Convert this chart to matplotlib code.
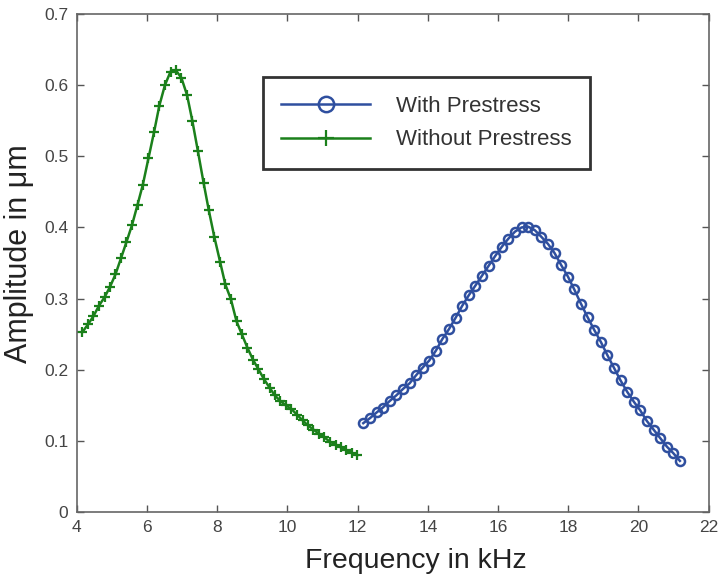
import matplotlib
matplotlib.use("Agg")
import matplotlib.pyplot as plt

plt.rcParams["font.family"] = ["Liberation Sans", "DejaVu Sans"]

# --- data ---
freq_without = [4.16, 4.32, 4.47, 4.63, 4.79, 4.94, 5.10, 5.26, 5.41, 5.57,
                5.73, 5.88, 6.04, 6.20, 6.35, 6.51, 6.67, 6.82, 6.98, 7.14,
                7.29, 7.45, 7.61, 7.76, 7.92, 8.08, 8.23, 8.39, 8.55, 8.70,
                8.86, 9.02, 9.17, 9.33, 9.49, 9.64, 9.80, 9.96, 10.11, 10.27,
                10.43, 10.58, 10.74, 10.90, 11.05, 11.21, 11.37, 11.52, 11.68, 11.84,
                11.99]
amp_without = [0.253, 0.264, 0.275, 0.290, 0.302, 0.316, 0.334, 0.357, 0.379, 0.403,
               0.432, 0.460, 0.497, 0.534, 0.571, 0.600, 0.619, 0.621, 0.610, 0.586,
               0.550, 0.507, 0.463, 0.424, 0.386, 0.352, 0.320, 0.299, 0.268, 0.250,
               0.231, 0.214, 0.201, 0.187, 0.175, 0.164, 0.156, 0.150, 0.145, 0.137,
               0.129, 0.122, 0.116, 0.110, 0.105, 0.099, 0.095, 0.091, 0.087, 0.083,
               0.080]

freq_with = [12.16, 12.35, 12.54, 12.72, 12.91, 13.10, 13.29, 13.48, 13.66, 13.85,
             14.04, 14.23, 14.41, 14.60, 14.79, 14.98, 15.17, 15.35, 15.54, 15.73,
             15.92, 16.11, 16.29, 16.48, 16.67, 16.86, 17.05, 17.23, 17.42, 17.61,
             17.80, 17.99, 18.17, 18.36, 18.55, 18.74, 18.93, 19.11, 19.30, 19.49,
             19.68, 19.87, 20.05, 20.24, 20.43, 20.62, 20.81, 20.99, 21.18]
amp_with = [0.125, 0.132, 0.140, 0.147, 0.156, 0.164, 0.173, 0.181, 0.192, 0.203,
            0.213, 0.227, 0.243, 0.257, 0.273, 0.290, 0.305, 0.318, 0.332, 0.346,
            0.360, 0.373, 0.384, 0.394, 0.400, 0.401, 0.396, 0.387, 0.377, 0.364,
            0.347, 0.331, 0.313, 0.293, 0.274, 0.256, 0.239, 0.221, 0.203, 0.185,
            0.169, 0.155, 0.143, 0.128, 0.116, 0.104, 0.092, 0.083, 0.072]

x_ticks = [4, 6, 8, 10, 12, 14, 16, 18, 20, 22]
y_ticks = [0, 0.1, 0.2, 0.3, 0.4, 0.5, 0.6, 0.7]
y_tick_labels = ["0", "0.1", "0.2", "0.3", "0.4", "0.5", "0.6", "0.7"]

BLUE = "#2f4f9f"
GREEN = "#1b801b"

fig = plt.figure(figsize=(7.18, 5.8), dpi=100)
ax = fig.add_axes([0.107, 0.117, 0.880, 0.859])

ax.plot(freq_with, amp_with, color=BLUE, linewidth=1.8, marker="o",
        markersize=6.5, markerfacecolor="none", markeredgewidth=1.8,
        label="With Prestress")
ax.plot(freq_without, amp_without, color=GREEN, linewidth=1.8, marker="+",
        markersize=6.5, markeredgewidth=1.6, label="Without Prestress")

ax.set_xlim(4, 22)
ax.set_ylim(0, 0.7)
ax.set_xticks(x_ticks)
ax.set_xticklabels([str(t) for t in x_ticks])
ax.set_yticks(y_ticks)
ax.set_yticklabels(y_tick_labels)

ax.tick_params(direction="in", top=True, right=True, length=5, width=1,
               colors="#555555", labelsize=12.5, labelcolor="#444444", pad=6)
for sp in ax.spines.values():
    sp.set_color("#666666")
    sp.set_linewidth(1.2)

ax.set_xlabel("Frequency in kHz", fontsize=20.5, color="#222222")
ax.set_ylabel("Amplitude in \u03bcm", fontsize=22, color="#222222")
ax.xaxis.set_label_coords(0.536, -0.072)
ax.yaxis.set_label_coords(-0.068, 0.518)

leg = ax.legend(loc="upper left", bbox_to_anchor=(0.294, 0.873), fontsize=16,
                frameon=True, fancybox=False, handlelength=4.0, handletextpad=1.15,
                borderpad=0.85, labelspacing=0.55, borderaxespad=0,
                markerscale=1.7)
leg.get_frame().set_edgecolor("black")
leg.get_frame().set_linewidth(2)
for t in leg.get_texts():
    t.set_color("#333333")

fig.savefig("out.png", dpi=100)
